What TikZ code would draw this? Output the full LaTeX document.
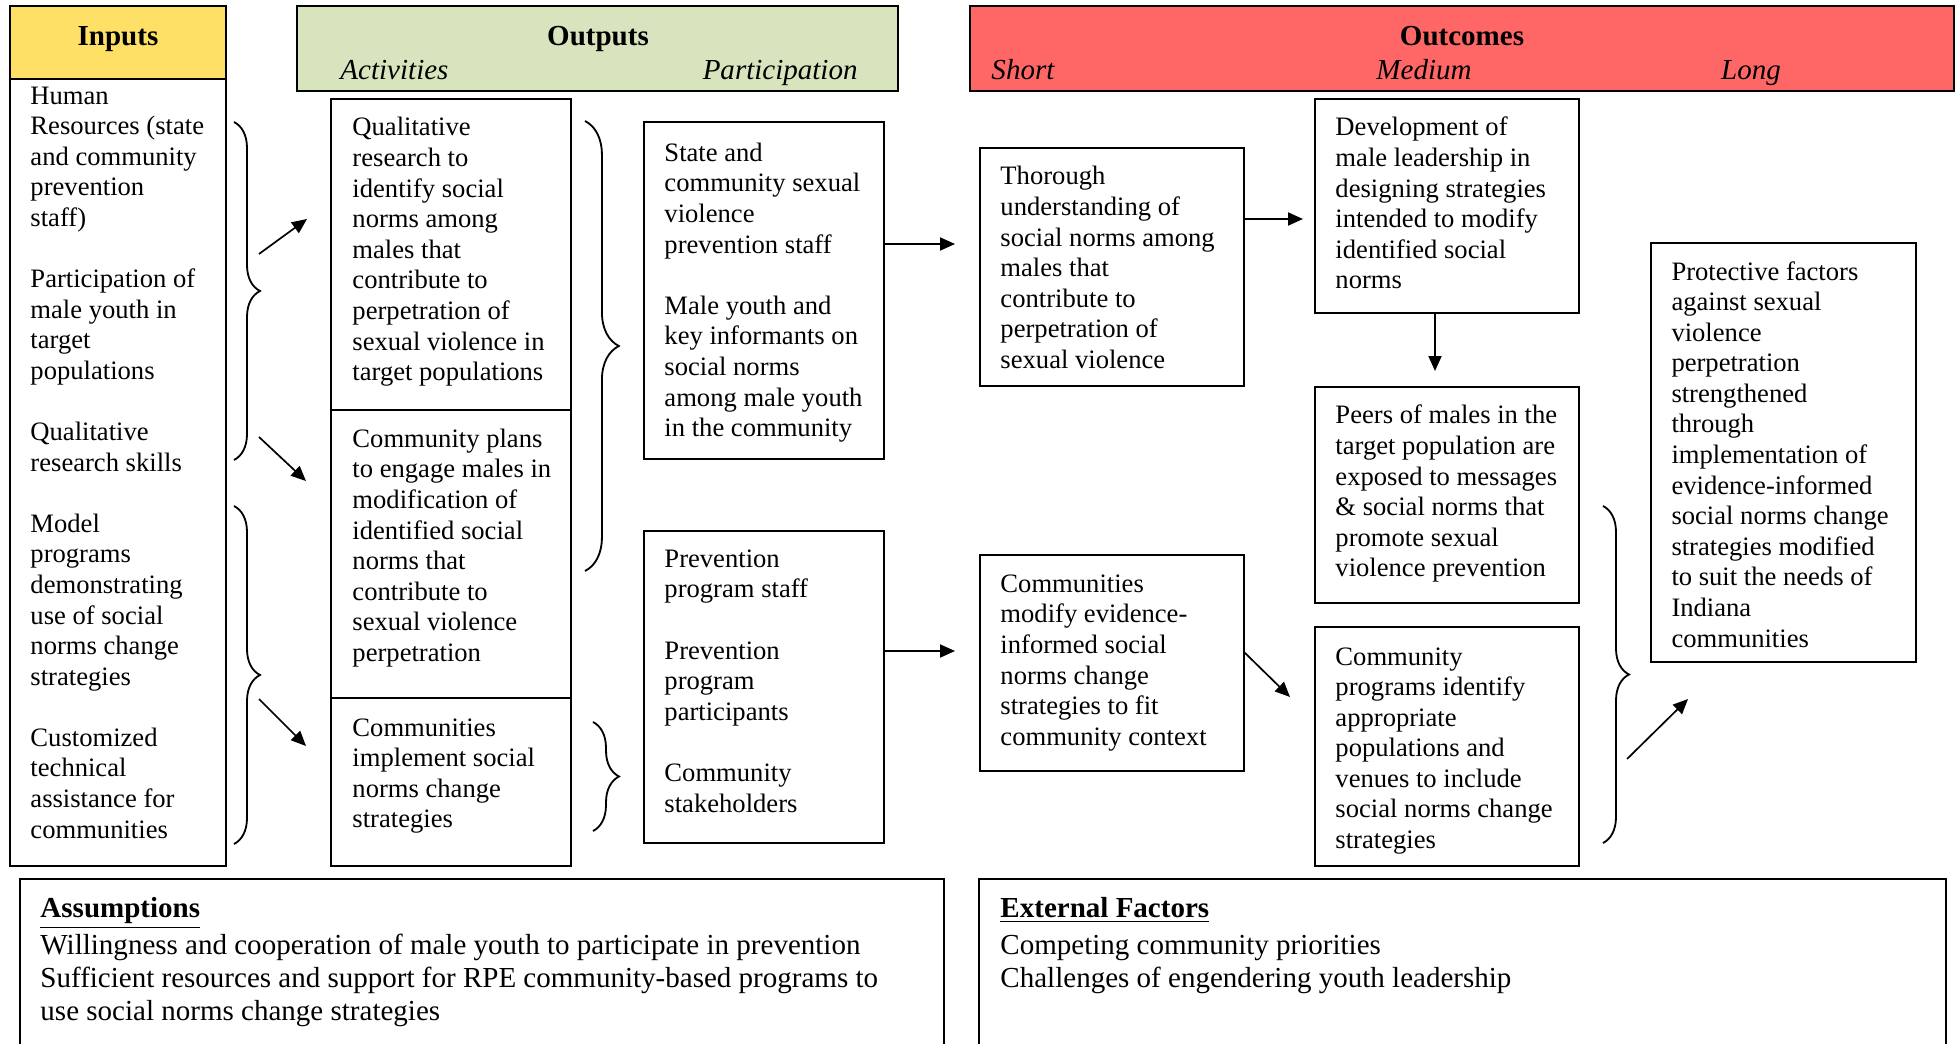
\documentclass[tikz,border=0pt]{standalone}
\usepackage{fontspec}
\setmainfont{Liberation Serif}
\usetikzlibrary{arrows.meta,decorations.pathreplacing,fit}

\definecolor{inYellow}{HTML}{FFE066}
\definecolor{outGreen}{HTML}{D7E4BD}
\definecolor{ocRed}{HTML}{FF6666}

\newcommand\bodyfont{\fontsize{11}{12.65}\selectfont}
\newcommand\bigfont{\fontsize{12}{13.8}\selectfont}
\newcommand\gap{\\[12.65pt]}

\begin{document}
\begin{tikzpicture}[x=0.41353pt,y=-0.41353pt,
  frame/.style={draw, inner sep=0pt, outer sep=0pt, line width=0.8pt},
  headbox/.style={frame, line width=1.2pt},
  txt/.style={anchor=north west, align=left, inner sep=0pt, font=\bodyfont},
  note/.style={anchor=north west, align=left, inner sep=0pt, font=\bigfont},
  headtitle/.style={anchor=base, inner sep=0pt, font=\bigfont\bfseries},
  subhead/.style={inner sep=0pt, font=\bigfont\itshape},
  arr/.style={-{Triangle[length=6.2pt,width=5.4pt]}, line width=0.7pt},
  curly/.style={decorate, line width=0.75pt, decoration={brace, amplitude=#1}},
]
\useasboundingbox (0,0) rectangle (1960,1044);

% ---------- column headers ----------
\node[headbox, fill=inYellow, fit={(10,6) (226,79)}] (inHead) {};
\node[headbox, fill=outGreen, fit={(297,6) (898,91)}] (outHead) {};
\node[headbox, fill=ocRed, fit={(970,6) (1954,91)}] (ocHead) {};

\node[headtitle] (inTitle) at (118,45.3) {Inputs};
\node[headtitle] (outTitle) at (598,45.3) {Outputs};
\node[headtitle] (ocTitle) at (1462,45.3) {Outcomes};
\node[subhead, anchor=base west] (actLbl) at (340,79.3) {Activities};
\node[subhead, anchor=base east] (partLbl) at (858,79.3) {Participation};
\node[subhead, anchor=base west] (shortLbl) at (991,79.3) {Short};
\node[subhead, anchor=base] (medLbl) at (1424,79.3) {Medium};
\node[subhead, anchor=base] (longLbl) at (1751,79.3) {Long};

% ---------- boxes ----------
\node[frame, fit={(10,79) (226,866)}] (inputs) {};
\node[frame, fit={(331,99) (571,410)}] (act1) {};
\node[frame, fit={(331,410) (571,698)}] (act2) {};
\node[frame, fit={(331,698) (571,866)}] (act3) {};
\node[frame, fit={(644,122) (884,459)}] (part1) {};
\node[frame, fit={(644,531) (884,843)}] (part2) {};
\node[frame, fit={(980,148) (1244,386)}] (short1) {};
\node[frame, fit={(980,555) (1244,771)}] (short2) {};
\node[frame, fit={(1315,99) (1579,313)}] (med1) {};
\node[frame, fit={(1315,387) (1579,603)}] (med2) {};
\node[frame, fit={(1315,627) (1579,866)}] (med3) {};
\node[frame, fit={(1651,243) (1916,662)}] (long1) {};
\node[frame, line width=0.9pt, fit={(20,879) (944,1070)}] (assumeBox) {};
\node[frame, line width=0.9pt, fit={(979,879) (1946,1070)}] (extBox) {};

% ---------- box texts ----------
\node[txt] (inputsTxt) at (30,82.1) {\strut Human\\Resources (state\\and community\\prevention\\staff)\gap
Participation of\\male youth in\\target\\populations\gap
Qualitative\\research skills\gap
Model\\programs\\demonstrating\\use of social\\norms change\\strategies\gap
Customized\\technical\\assistance for\\communities};

\node[txt] (act1Txt) at (352,114.1) {\strut Qualitative\\research to\\identify social\\norms among\\males that\\contribute to\\perpetration of\\sexual violence in\\target populations};
\node[txt] (act2Txt) at (352,425.5) {\strut Community plans\\to engage males in\\modification of\\identified social\\norms that\\contribute to\\sexual violence\\perpetration};
\node[txt] (act3Txt) at (352,714.1) {\strut Communities\\implement social\\norms change\\strategies};

\node[txt] (part1Txt) at (664,139.5) {\strut State and\\community sexual\\violence\\prevention staff\gap
Male youth and\\key informants on\\social norms\\among male youth\\in the community};
\node[txt] (part2Txt) at (664,545.5) {\strut Prevention\\program staff\gap
Prevention\\program\\participants\gap
Community\\stakeholders};

\node[txt] (short1Txt) at (1000,163.1) {\strut Thorough\\understanding of\\social norms among\\males that\\contribute to\\perpetration of\\sexual violence};
\node[txt] (short2Txt) at (1000,570.5) {\strut Communities\\modify evidence-\\informed social\\norms change\\strategies to fit\\community context};

\node[txt] (med1Txt) at (1335,114.1) {\strut Development of\\male leadership in\\designing strategies\\intended to modify\\identified social\\norms};
\node[txt] (med2Txt) at (1335,402.1) {\strut Peers of males in the\\target population are\\exposed to messages\\\& social norms that\\promote sexual\\violence prevention};
\node[txt] (med3Txt) at (1335,643.1) {\strut Community\\programs identify\\appropriate\\populations and\\venues to include\\social norms change\\strategies};

\node[txt] (longTxt) at (1671,258.1) {\strut Protective factors\\against sexual\\violence\\perpetration\\strengthened\\through\\implementation of\\evidence-informed\\social norms change\\strategies modified\\to suit the needs of\\Indiana\\communities};

\node[note] (assumeTxt) at (40,894) {\strut\textbf{\underline{Assumptions}}\\[1.2pt]
Willingness and cooperation of male youth to participate in prevention\\
Sufficient resources and support for RPE community-based programs to\\
use social norms change strategies};
\node[note] (extTxt) at (1000,894) {\strut\textbf{\underline{External Factors}}\\[1.2pt]
Competing community priorities\\
Challenges of engendering youth leadership};

% ---------- braces ----------
\draw[curly=10.75pt] (234,122) -- (234,460);
\draw[curly=10.75pt] (234,506) -- (234,844);
\draw[curly=14pt] (585,121) -- (585,571);
\draw[curly=10.75pt] (593,722) -- (593,831);
\draw[curly=10.75pt] (1603,506) -- (1603,843);

% ---------- arrows ----------
\coordinate (a1s) at (259,254);  \coordinate (a1e) at (307,219);
\coordinate (a2s) at (259,437);  \coordinate (a2e) at (306,481);
\coordinate (a3s) at (259,699);  \coordinate (a3e) at (306,746);
\coordinate (a4e) at (955,244);
\coordinate (a5e) at (955,651);
\coordinate (a6e) at (1303,219);
\coordinate (a7y) at (0,652);    \coordinate (a7e) at (1290,697);
\coordinate (a8e) at (1435,371);
\coordinate (a9s) at (1627,759); \coordinate (a9e) at (1688,699);

\draw[arr] (a1s) -- (a1e);
\draw[arr] (a2s) -- (a2e);
\draw[arr] (a3s) -- (a3e);
\draw[arr] (part1.east |- a4e) -- (a4e);
\draw[arr] (part2.east |- a5e) -- (a5e);
\draw[arr] (short1.east |- a6e) -- (a6e);
\draw[arr] (short2.east |- a7y) -- (a7e);
\draw[arr] (med1.south -| a8e) -- (a8e);
\draw[arr] (a9s) -- (a9e);
\end{tikzpicture}
\end{document}
